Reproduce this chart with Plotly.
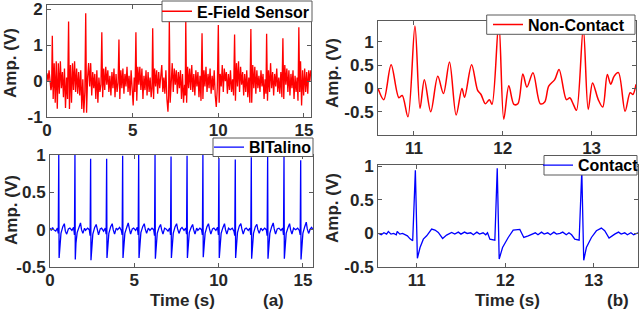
import plotly.graph_objects as go

# ---------------- data ----------------
# (a) top: E-Field sensor, time (s) and amplitude (V)
efield_t = [0.00, 0.06, 0.12, 0.18, 0.23, 0.27, 0.31,
            0.36, 0.42, 0.48, 0.54, 0.60, 0.66, 0.72, 0.78, 0.84, 0.90, 0.96, 1.02, 1.08, 1.14, 1.20, 1.26,
            1.31, 1.37, 1.43, 1.49, 1.55, 1.61, 1.67, 1.73, 1.79, 1.85, 1.91, 1.97, 2.03, 2.09, 2.15, 2.21, 2.26,
            2.31, 2.37, 2.43, 2.49, 2.55, 2.61, 2.67, 2.73, 2.79, 2.85, 2.91, 2.97, 3.03, 3.09, 3.15, 3.20,
            3.25, 3.31, 3.37, 3.43, 3.49, 3.55, 3.61, 3.67, 3.73, 3.79, 3.85, 3.91, 3.97, 4.03, 4.09, 4.15, 4.20,
            4.25, 4.31, 4.37, 4.43, 4.49, 4.55, 4.61, 4.67, 4.73, 4.79, 4.85, 4.91, 4.97, 5.03, 5.09, 5.14, 5.19,
            5.24, 5.30, 5.36, 5.42, 5.48, 5.54, 5.60, 5.66, 5.72, 5.78, 5.84, 5.90, 5.96, 6.02, 6.08, 6.13, 6.17,
            6.22, 6.28, 6.34, 6.40, 6.46, 6.52, 6.58, 6.64, 6.70, 6.76, 6.82, 6.88, 6.94, 7.00, 7.06, 7.10, 7.14,
            7.19, 7.25, 7.31, 7.37, 7.43, 7.49, 7.55, 7.61, 7.67, 7.73, 7.79, 7.85, 7.91, 7.97, 8.03, 8.07, 8.10,
            8.15, 8.21, 8.27, 8.33, 8.39, 8.45, 8.51, 8.57, 8.63, 8.69, 8.75, 8.81, 8.87, 8.93, 8.99, 9.05,
            9.10, 9.16, 9.22, 9.28, 9.34, 9.40, 9.46, 9.52, 9.58, 9.64, 9.70, 9.76, 9.82, 9.88, 9.94, 10.00,
            10.05, 10.11, 10.17, 10.23, 10.29, 10.35, 10.41, 10.47, 10.53, 10.59, 10.65, 10.71, 10.77, 10.83, 10.89, 10.95,
            11.00, 11.06, 11.12, 11.18, 11.24, 11.30, 11.36, 11.42, 11.48, 11.54, 11.60, 11.66, 11.72, 11.78, 11.84, 11.90,
            11.95, 12.01, 12.07, 12.13, 12.19, 12.25, 12.31, 12.37, 12.43, 12.49, 12.55, 12.61, 12.67, 12.73, 12.78, 12.82,
            12.87, 12.93, 12.99, 13.05, 13.11, 13.17, 13.23, 13.29, 13.35, 13.41, 13.47, 13.53, 13.59, 13.65, 13.71, 13.77,
            13.82, 13.88, 13.94, 14.00, 14.06, 14.12, 14.18, 14.24, 14.30, 14.36, 14.42, 14.48, 14.54, 14.60, 14.65, 14.70,
            14.75, 14.80, 14.86, 14.92, 14.98, 15.04, 15.10, 15.16, 15.22, 15.28, 15.34, 15.40]
efield_v = [0.22, 0.00, 0.30, -0.10, -0.25, -0.15, 1.26,
            -0.50, 0.50, -0.60, 0.55, -0.77, 0.50, -0.35, 0.55, -0.20, 0.25, -0.45, 0.35, -0.75, 0.10, -0.50, 1.66,
            -0.78, 0.45, -0.60, 0.50, -0.25, 0.55, -0.30, 0.35, -0.35, 0.25, -0.40, 0.30, -0.78, 0.05, -0.88, -0.30, 1.89,
            -0.88, 0.10, 0.50, -0.15, 0.50, -0.40, 0.25, -0.20, 0.20, -0.50, 0.30, -0.60, 0.10, -0.30, -0.10, 1.36,
            -0.45, 0.35, -0.25, 0.40, -0.10, 0.30, -0.30, 0.15, -0.40, 0.25, -0.20, 0.35, -0.45, 0.20, -0.30, -0.05, 1.16,
            -0.50, 0.30, -0.20, 0.35, -0.35, 0.20, -0.15, 0.40, -0.30, 0.15, -0.40, 0.30, -0.20, -0.68, 0.10, -0.30, 1.36,
            -0.55, 0.40, -0.10, 0.40, -0.25, 0.35, -0.50, 0.15, -0.25, 0.30, -0.40, 0.25, -0.30, 0.10, -0.45, -0.20, 1.47,
            -0.50, 0.35, -0.15, 0.30, -0.35, 0.25, -0.20, 0.20, 0.45, -0.30, 0.10, -0.35, 0.30, -0.50, -0.85, -0.40, 1.70,
            -0.60, 0.20, 0.50, -0.30, 0.35, -0.10, 0.30, -0.35, 0.25, -0.20, 0.30, -0.50, 0.20, -0.60, -0.10, -0.40, 1.70,
            -0.60, 0.40, -0.20, 0.35, -0.25, 0.45, -0.30, 0.20, -0.40, 0.30, -0.15, 0.25, -0.45, 0.15, -0.55, 1.33,
            -0.50, 0.30, -0.15, 0.40, -0.30, 0.20, -0.20, 0.35, -0.35, 0.15, -0.25, 0.30, -0.40, -0.72, -0.20, 1.56,
            -0.60, 0.20, -0.15, 0.45, -0.30, 0.35, 0.00, 0.25, -0.35, 0.20, -0.25, 0.30, -0.30, 0.05, -0.40, 1.30,
            -0.55, 0.50, -0.15, 0.55, -0.30, 0.40, -0.10, 0.25, -0.40, 0.20, -0.30, 0.30, -0.45, 0.10, -0.60, 1.45,
            -0.60, 0.45, -0.20, 0.40, -0.35, 0.30, -0.20, 0.15, -0.30, 0.30, -0.15, 0.20, -0.50, 0.05, -0.35, 1.32,
            -0.55, 0.30, -0.30, 0.50, -0.20, 0.25, -0.40, 0.20, -0.15, 0.35, -0.30, 0.10, -0.35, 0.25, -0.45, 1.19,
            -0.50, 0.45, -0.10, 0.35, -0.30, 0.30, -0.40, 0.20, -0.20, 0.30, -0.50, 0.15, -0.30, 0.10, -0.55, 1.50,
            -0.30, 0.55, -0.68, 0.30, -0.40, 0.35, -0.30, 0.25, -0.35, 0.30, 0.00, 0.30]

# (a) bottom: BITalino ECG
bital_t = [0.00, 0.08, 0.15,
           0.22, 0.34, 0.44, 0.49, 0.52, 0.54, 0.58, 0.65, 0.76, 0.85, 0.91, 0.99, 1.09,
           1.18, 1.30, 1.40, 1.45, 1.48, 1.50, 1.54, 1.61, 1.72, 1.81, 1.87, 1.95, 2.05,
           2.11, 2.23, 2.33, 2.38, 2.41, 2.43, 2.47, 2.54, 2.65, 2.74, 2.80, 2.88, 2.98,
           3.06, 3.18, 3.28, 3.33, 3.36, 3.38, 3.42, 3.49, 3.60, 3.69, 3.75, 3.83, 3.93,
           4.01, 4.13, 4.23, 4.28, 4.31, 4.33, 4.37, 4.44, 4.55, 4.64, 4.70, 4.78, 4.88,
           4.96, 5.08, 5.18, 5.23, 5.26, 5.28, 5.32, 5.39, 5.50, 5.59, 5.65, 5.73, 5.83,
           5.93, 6.05, 6.15, 6.20, 6.23, 6.25, 6.29, 6.36, 6.47, 6.56, 6.62, 6.70, 6.80,
           6.88, 7.00, 7.10, 7.15, 7.18, 7.20, 7.24, 7.31, 7.42, 7.51, 7.57, 7.65, 7.75,
           7.83, 7.95, 8.05, 8.10, 8.13, 8.15, 8.19, 8.26, 8.37, 8.46, 8.52, 8.60, 8.70,
           8.77, 8.89, 8.99, 9.04, 9.07, 9.09, 9.13, 9.20, 9.31, 9.40, 9.46, 9.54, 9.64,
           9.72, 9.84, 9.94, 9.99, 10.02, 10.04, 10.08, 10.15, 10.26, 10.35, 10.41, 10.49, 10.59,
           10.69, 10.81, 10.91, 10.96, 10.99, 11.01, 11.05, 11.12, 11.23, 11.32, 11.38, 11.46, 11.56,
           11.64, 11.76, 11.86, 11.91, 11.94, 11.96, 12.00, 12.07, 12.18, 12.27, 12.33, 12.41, 12.51,
           12.61, 12.73, 12.83, 12.88, 12.91, 12.93, 12.97, 13.04, 13.15, 13.24, 13.30, 13.38, 13.48,
           13.58, 13.70, 13.80, 13.85, 13.88, 13.90, 13.94, 14.01, 14.12, 14.21, 14.27, 14.35, 14.45,
           14.57, 14.69, 14.79, 14.84, 14.87, 14.89, 14.93, 15.00, 15.11, 15.20, 15.26, 15.34, 15.44,
           15.52, 15.60]
bital_v = [0.02, -0.01, 0.03,
           0.00, -0.02, 0.02, -0.05, 1.00, -0.38, -0.20, -0.05, 0.04, 0.08, -0.02, -0.06, 0.01,
           0.02, -0.01, 0.03, -0.07, 1.00, -0.40, -0.18, -0.04, 0.05, 0.09, 0.00, -0.05, 0.02,
           -0.01, 0.02, 0.00, -0.08, 0.95, -0.41, -0.20, -0.06, 0.03, 0.07, 0.01, -0.07, 0.01,
           0.02, -0.02, 0.02, -0.06, 0.95, -0.38, -0.21, -0.05, 0.04, 0.08, 0.00, -0.06, 0.02,
           0.00, 0.03, -0.01, -0.07, 0.99, -0.38, -0.19, -0.05, 0.03, 0.09, 0.02, -0.06, 0.01,
           0.02, -0.01, 0.03, -0.07, 1.00, -0.38, -0.20, -0.04, 0.04, 0.08, 0.01, -0.05, 0.02,
           -0.01, 0.02, 0.00, -0.08, 1.00, -0.39, -0.20, -0.05, 0.03, 0.07, 0.00, -0.06, 0.02,
           0.01, -0.02, 0.02, -0.07, 0.98, -0.38, -0.19, -0.05, 0.04, 0.08, 0.01, -0.05, 0.01,
           0.03, -0.01, 0.02, -0.06, 0.99, -0.38, -0.20, -0.04, 0.03, 0.07, 0.00, -0.06, 0.02,
           -0.01, 0.02, 0.00, -0.07, 1.00, -0.37, -0.19, -0.05, 0.04, 0.08, 0.01, -0.06, 0.01,
           0.02, -0.01, 0.03, -0.07, 0.96, -0.38, -0.20, -0.05, 0.03, 0.08, 0.00, -0.06, 0.02,
           0.00, 0.02, -0.02, -0.08, 0.94, -0.38, -0.20, -0.04, 0.05, 0.08, 0.01, -0.06, 0.01,
           0.02, -0.01, 0.02, -0.07, 0.97, -0.39, -0.20, -0.05, 0.04, 0.07, 0.00, -0.05, 0.02,
           -0.01, 0.02, 0.00, -0.08, 0.99, -0.39, -0.20, -0.05, 0.04, 0.09, 0.01, -0.06, 0.01,
           0.02, -0.01, 0.02, -0.07, 0.98, -0.39, -0.19, -0.05, 0.03, 0.08, 0.00, -0.06, 0.02,
           0.00, 0.02, -0.01, -0.07, 0.93, -0.40, -0.20, -0.05, 0.04, 0.10, 0.01, -0.05, 0.01,
           0.03, 0.00]

# (b) top: Non-Contact (zoomed)
noncon_t = [10.596, 10.66, 10.743, 10.83, 10.868, 10.932, 11.011, 11.068, 11.117, 11.189,
            11.268, 11.332, 11.40, 11.475, 11.54, 11.57, 11.649, 11.717, 11.755, 11.804,
            11.849, 11.879, 11.955, 12.011, 12.068, 12.125, 12.17, 12.226, 12.272, 12.34,
            12.423, 12.472, 12.517, 12.585, 12.634, 12.717, 12.755, 12.792, 12.83, 12.906,
            12.962, 13.011, 13.075, 13.125, 13.177, 13.215, 13.253, 13.302, 13.377, 13.434,
            13.464, 13.50]
noncon_v = [0.00, -0.24, 0.51, -0.20, -0.15, -0.61, 1.34, -0.43, 0.19, -0.50,
            0.26, -0.11, 0.57, -0.57, 0.00, -0.19, 0.51, -0.04, -0.13, -0.33,
            -0.24, -0.34, 1.42, -0.66, 0.06, -0.34, -0.33, 0.31, 0.03, 0.34,
            -0.33, -0.29, 0.05, 0.19, 0.41, -0.24, -0.20, -0.33, -0.47, 1.30,
            -0.45, 0.12, -0.24, -0.40, 0.30, 0.09, 0.26, 0.34, -0.49, -0.09,
            -0.13, 0.09]

# (b) bottom: Contact (zoomed)
contact_t = [10.57, 10.60, 10.63, 10.66, 10.68, 10.71, 10.74, 10.77, 10.78, 10.81, 10.84, 10.87,
             10.895, 10.925, 10.955, 10.985, 11.008, 11.038, 11.075, 11.113, 11.169, 11.207,
             11.244, 11.293, 11.338, 11.395, 11.43, 11.47, 11.50, 11.54, 11.57, 11.61, 11.64,
             11.68, 11.71, 11.75, 11.78, 11.80, 11.827, 11.883, 11.91, 11.932, 11.97, 12.034,
             12.09, 12.165, 12.21, 12.26, 12.30, 12.34, 12.37, 12.41, 12.44, 12.48, 12.51,
             12.55, 12.58, 12.62, 12.65, 12.69, 12.72, 12.75, 12.786, 12.835, 12.865, 12.887,
             12.917, 12.974, 13.03, 13.086, 13.124, 13.173, 13.237, 13.28, 13.31, 13.35, 13.38,
             13.42, 13.45, 13.48, 13.50]
contact_v = [0.00, -0.02, 0.01, -0.01, 0.03, -0.01, 0.00, -0.02, 0.03, -0.01, 0.00, -0.02,
             -0.035, -0.08, -0.11, 0.94, -0.37, -0.21, -0.085, -0.035, 0.065, 0.05,
             0.015, -0.075, -0.025, 0.015, -0.01, 0.02, -0.01, 0.02, 0.00, 0.01, -0.02,
             0.02, -0.01, 0.01, -0.02, 0.01, -0.085, -0.10, 0.97, -0.38, -0.21, -0.06,
             0.05, 0.06, -0.06, -0.035, -0.01, 0.01, -0.02, 0.02, -0.01, 0.01, -0.02,
             0.02, -0.01, 0.00, 0.02, -0.02, 0.01, -0.02, -0.085, -0.10, 0.93, -0.40,
             -0.21, -0.06, 0.04, 0.08, 0.04, -0.07, -0.01, 0.02, -0.01, 0.01, -0.02,
             0.01, -0.02, 0.00, 0.01]

# tick values / labels
xt_a = [0, 5, 10, 15]
xt_b = [11, 12, 13]
yt_top_a = [-1, 0, 1, 2]
yt_half = [-0.5, 0, 0.5, 1]
ylab_half = ["-0.5", "0", "0.5", "1"]
ylab_top_a = ["-1", "0", "1", "2"]

# ---------------- figure ----------------
W, H = 640, 311
FONT = "Liberation Sans, Arial, Helvetica, sans-serif"
TXT = "#262626"
AX = "#5a5a5a"

def px_x(a, b):
    return [a / W, b / W]

def px_y(top, bottom):
    return [1 - bottom / H, 1 - top / H]

fig = go.Figure()
fig.add_trace(go.Scatter(x=efield_t, y=efield_v, mode="lines", name="E-Field Sensor",
                         line=dict(color="#ff0000", width=1.3), xaxis="x", yaxis="y", legend="legend"))
fig.add_trace(go.Scatter(x=bital_t, y=bital_v, mode="lines", name="BITalino",
                         line=dict(color="#0000ff", width=1.3), xaxis="x2", yaxis="y2", legend="legend2"))
fig.add_trace(go.Scatter(x=noncon_t, y=noncon_v, mode="lines", name="Non-Contact",
                         line=dict(color="#ff0000", width=1.5, shape="spline", smoothing=0.9),
                         xaxis="x3", yaxis="y3", legend="legend3"))
fig.add_trace(go.Scatter(x=contact_t, y=contact_v, mode="lines", name="Contact",
                         line=dict(color="#0000ff", width=1.3), xaxis="x4", yaxis="y4", legend="legend4"))

tickfont = dict(family=FONT, size=17, color=TXT, weight="bold")
common = dict(showgrid=False, zeroline=False, showline=True, linecolor=AX, linewidth=1,
              mirror="allticks", ticks="inside", ticklen=4, tickcolor=AX, tickwidth=1,
              tickfont=tickfont)
xcommon = dict(common, ticklabelstandoff=-2)

fig.update_layout(
    width=W, height=H, margin=dict(l=0, r=0, t=0, b=0, autoexpand=False),
    paper_bgcolor="white", plot_bgcolor="white",
    xaxis=dict(domain=px_x(47, 311), range=[0, 15.41], anchor="y", tickvals=xt_a, **xcommon),
    yaxis=dict(domain=px_y(5, 117), range=[-1, 2.12], anchor="x", tickvals=yt_top_a,
               ticktext=ylab_top_a, **common),
    xaxis2=dict(domain=px_x(50, 313), range=[0, 15.6], anchor="y2", tickvals=xt_a, **xcommon),
    yaxis2=dict(domain=px_y(155, 267), range=[-0.5, 1], anchor="x2", tickvals=yt_half,
                ticktext=ylab_half, **common),
    xaxis3=dict(domain=px_x(378, 636), range=[10.595, 13.5], anchor="y3", tickvals=xt_b, **xcommon),
    yaxis3=dict(domain=px_y(21, 135), range=[-1.0, 1.45], anchor="x3", tickvals=yt_half,
                ticktext=ylab_half, **common),
    xaxis4=dict(domain=px_x(378, 638), range=[10.563, 13.5], anchor="y4", tickvals=xt_b, **xcommon),
    yaxis4=dict(domain=px_y(165, 267), range=[-0.5, 1.02], anchor="x4", tickvals=yt_half,
                ticktext=ylab_half, **common),
    showlegend=True,
)

# legend frames (white boxes drawn above the data, legends on top of them)
legend_boxes = [  # (left, top, right, bottom) in pixels, text start x
    (162, 1, 312, 21.7, 197),
    (213, 138, 313, 156.5, 249),
    (486.7, 15, 635, 34.3, 528),
    (544, 155.5, 637, 175, 578),
]
legfont = dict(family=FONT, size=16, color="black", weight="bold")
legnames = ["legend", "legend2", "legend3", "legend4"]
for name, (l, t, r, b, txt_x) in zip(legnames, legend_boxes):
    fig.add_shape(type="rect", xref="paper", yref="paper",
                  x0=l / W, x1=r / W, y0=1 - b / H, y1=1 - t / H,
                  fillcolor="white", line=dict(color=AX, width=1), layer="above")
    fig.update_layout({name: dict(font=legfont, bgcolor="rgba(0,0,0,0)", borderwidth=0,
                                  xanchor="left", yanchor="middle",
                                  x=(txt_x - 40) / W, y=1 - ((t + b) / 2) / H,
                                  itemwidth=30, tracegroupgap=0)})

titlefont = dict(family=FONT, size=17, color=TXT, weight="bold")
def ann(text, xpx, ypx, angle=0, font=titlefont):
    fig.add_annotation(text=text, x=xpx / W, y=1 - ypx / H, xref="paper", yref="paper",
                       showarrow=False, textangle=angle, font=font,
                       xanchor="center", yanchor="middle")

ann("Amp. (V)", 11, 63, -90)
ann("Amp. (V)", 11, 210, -90)
ann("Amp. (V)", 332, 73, -90)
ann("Amp. (V)", 332, 208, -90)
ann("Time (s)", 182, 300.5)
ann("Time (s)", 507, 300.5)
ann("(a)", 273, 300.5)
ann("(b)", 618, 300.5)

fig.write_html("out.html", config={"displayModeBar": False},
               post_script="document.body.style.margin='0px';document.body.style.overflow='hidden';")
